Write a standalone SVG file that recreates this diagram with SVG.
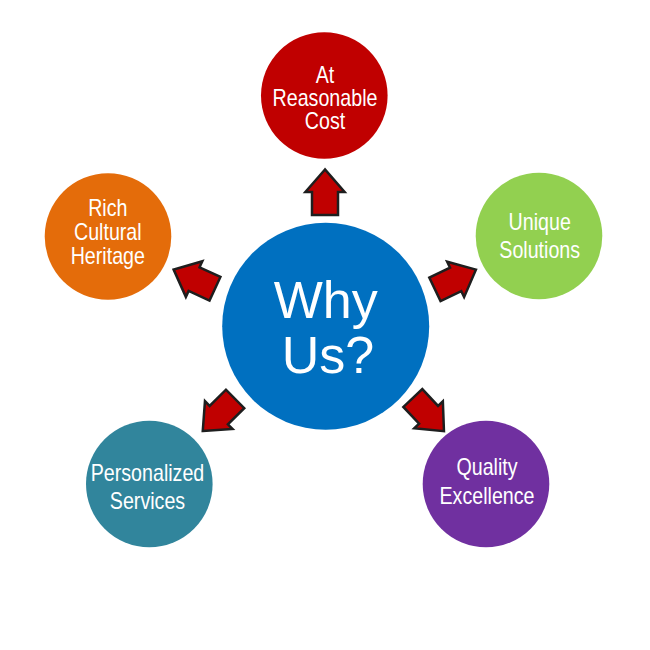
<svg xmlns="http://www.w3.org/2000/svg" width="650" height="650" viewBox="0 0 650 650">
<style>
.lbl{font-family:"Liberation Sans",Arial,sans-serif;font-size:23px;fill:#fff;text-anchor:middle}
.big{font-family:"Liberation Sans",Arial,sans-serif;font-size:52px;fill:#fff;text-anchor:middle}
.arr{fill:#C00000;stroke:#1e1e1e;stroke-width:2.5;stroke-linejoin:miter}
</style>
<defs>
<path id="arrow" d="M-1.5,0 L-24,-19.6 L-24,-13 L-47,-13 L-47,13 L-24,13 L-24,19.6 Z"/>
</defs>
<rect width="650" height="650" fill="#fff"/>
<g id="connectors">
<use href="#arrow" class="arr" transform="translate(325,168) rotate(-90)"/>
<use href="#arrow" class="arr" transform="translate(477.3,269) rotate(-25.6)"/>
<use href="#arrow" class="arr" transform="translate(172.3,269) rotate(-155.2)"/>
<use href="#arrow" class="arr" transform="translate(201.7,432) rotate(135.3)"/>
<use href="#arrow" class="arr" transform="translate(445,432.3) rotate(46.8)"/>
</g>
<g id="center">
<circle cx="325.7" cy="326.3" r="103.5" fill="#0070C0"/>
<text class="big" x="325.7" y="318.3">Why</text>
<text class="big" x="328" y="373.3">Us?</text>
</g>
<g id="cost">
<circle cx="324.3" cy="95.5" r="63.3" fill="#C00000"/>
<g transform="translate(325,0) scale(0.855,1)">
<text class="lbl" x="0" y="82.7">At</text>
<text class="lbl" x="0" y="106">Reasonable</text>
<text class="lbl" x="0" y="129.3">Cost</text>
</g>
</g>
<g id="unique">
<circle cx="539" cy="236" r="63.3" fill="#92D050"/>
<g transform="translate(539.7,0) scale(0.855,1)">
<text class="lbl" x="0" y="230">Unique</text>
<text class="lbl" x="0" y="258.3">Solutions</text>
</g>
</g>
<g id="heritage">
<circle cx="108" cy="236.5" r="63.3" fill="#E46C0A"/>
<g transform="translate(107.8,0) scale(0.855,1)">
<text class="lbl" x="0" y="216">Rich</text>
<text class="lbl" x="0" y="240">Cultural</text>
<text class="lbl" x="0" y="264">Heritage</text>
</g>
</g>
<g id="personalized">
<circle cx="149.3" cy="484" r="63.3" fill="#31859C"/>
<g transform="translate(147.5,0) scale(0.855,1)">
<text class="lbl" x="0" y="480.7">Personalized</text>
<text class="lbl" x="0" y="508.7">Services</text>
</g>
</g>
<g id="quality">
<circle cx="486" cy="484" r="63.3" fill="#7030A0"/>
<g transform="translate(487,0) scale(0.855,1)">
<text class="lbl" x="0" y="474.7">Quality</text>
<text class="lbl" x="0" y="504">Excellence</text>
</g>
</g>
</svg>
